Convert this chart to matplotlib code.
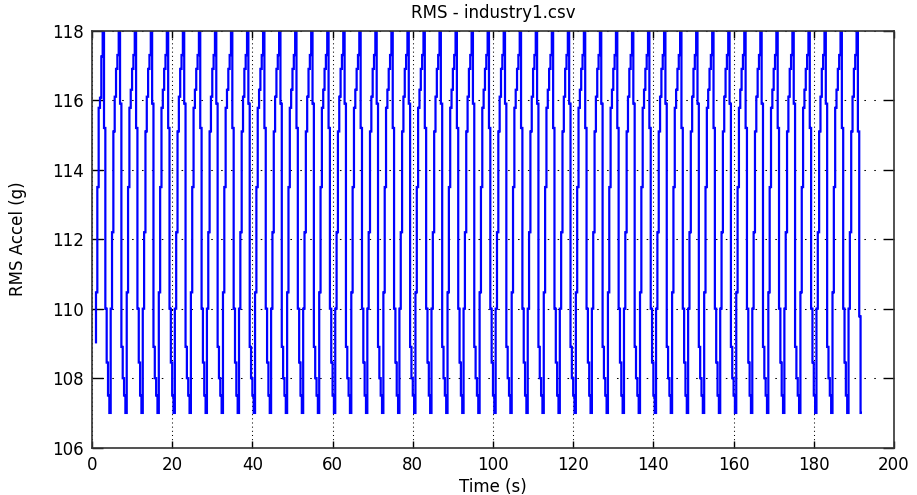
import numpy as np
import matplotlib.pyplot as plt

# sample interval (s) and start time of the record
dt = 1.0 / 3.0
t_start = 1.0

# first partial rise up to the first peak
lead = [109.0, 110.47, 113.5, 115.78, 116.07, 117.26, 118.0]

# two cycle shapes (peak -> fall -> rise -> peak)
cycle_a = [115.2, 110.0, 108.45, 107.5, 107.0, 110.0, 112.2, 115.1, 116.1, 116.9, 117.3, 118.0]
cycle_b = [115.9, 108.9, 108.0, 107.5, 107.0, 110.47, 113.5, 115.78, 116.3, 116.9, 117.3, 118.0]
n_cycles = 47

# final fall after the last peak
tail = [115.1, 109.78, 107.0]

values = list(lead)
for i in range(n_cycles):
    values += cycle_a if i % 2 == 0 else cycle_b
values += tail
values = np.array(values)
t = t_start + dt * np.arange(len(values))

plt.rcParams['font.family'] = ['DejaVu Sans']

fig = plt.figure(figsize=(9.17, 4.95), dpi=100)
ax = fig.add_axes([0.1003, 0.0956, 0.8746, 0.8424])

ax.plot(t, values, color='#0000ff', linewidth=1.6, drawstyle='steps-pre',
        solid_joinstyle='miter', solid_capstyle='butt')

ax.set_xlim(0, 200)
ax.set_ylim(106, 118)
ax.set_xticks(np.arange(0, 201, 20))
ax.set_yticks(np.arange(106, 119, 2))
ax.tick_params(direction='in', top=True, right=True, labelsize=12, colors='black', width=1.0)
ax.tick_params(axis='x', length=5, pad=6)
ax.tick_params(axis='y', length=8, pad=6)

# MATLAB-like dotted grid: dense dots on verticals, sparse on horizontals
ax.xaxis.grid(True, linestyle=(0, (1, 3)), color='black', linewidth=0.75)
ax.yaxis.grid(True, linestyle=(0, (1.5, 8)), color='black', linewidth=0.75)
for s in ax.spines.values():
    s.set_linewidth(1.2)
    s.set_color('#333333')

ax.set_title("RMS - industry1.csv", fontsize=12, pad=9)
ax.set_xlabel("Time (s)", fontsize=12, labelpad=3)
ax.set_ylabel("RMS Accel (g)", fontsize=12, labelpad=18)

fig.savefig("out.png", dpi=100)
